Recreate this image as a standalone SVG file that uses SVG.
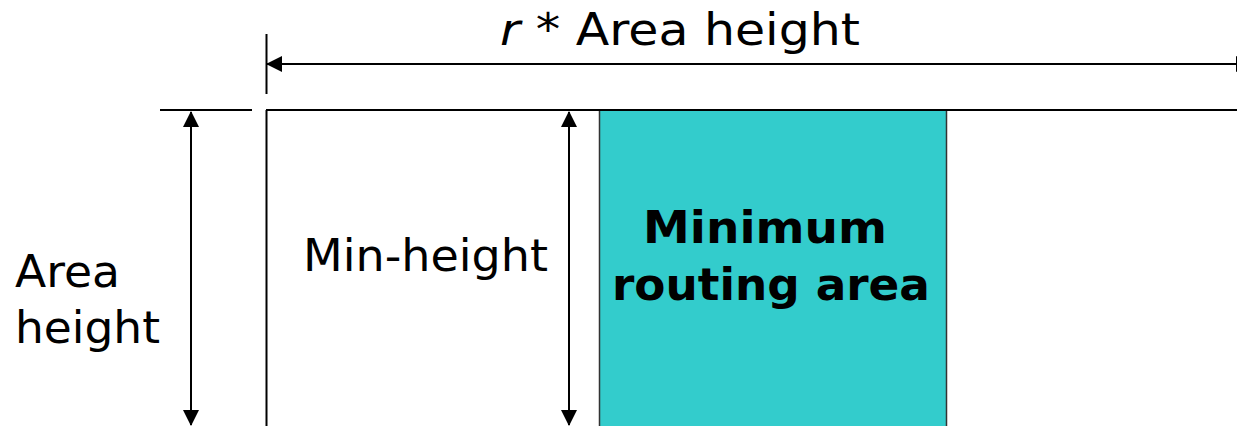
<svg xmlns="http://www.w3.org/2000/svg" width="1237" height="426" viewBox="0 0 1237 426">
  <style>
    .line { stroke: #000; stroke-width: 2; fill: none; }
    .arrow { stroke: #000; stroke-width: 2; fill: none; marker-start: url(#head); marker-end: url(#head); }
    .label { font-family: Verdana, "DejaVu Sans", sans-serif; font-size: 45px; fill: #000; }
    .bold { font-weight: bold; }
  </style>
  <defs>
    <marker id="head" viewBox="0 0 16 16" refX="15" refY="8" markerWidth="16" markerHeight="16" markerUnits="userSpaceOnUse" orient="auto-start-reverse">
      <path d="M0,0 L16,8 L0,16 Z" fill="#000"/>
    </marker>
  </defs>

  <rect width="1237" height="426" fill="#fff"/>

  <!-- routing region -->
  <g id="routing-area">
    <rect x="599.5" y="110" width="347" height="320" fill="#33cccc" stroke="#333" stroke-width="1.5"/>
    <text class="label bold" x="765" y="243" text-anchor="middle" textLength="244" lengthAdjust="spacingAndGlyphs">Minimum</text>
    <text class="label bold" x="771" y="300" text-anchor="middle" textLength="318" lengthAdjust="spacingAndGlyphs">routing area</text>
  </g>

  <!-- boundaries of the area -->
  <g id="frame">
    <line class="line" x1="160" y1="110" x2="252" y2="110"/>
    <line class="line" x1="266" y1="110" x2="1237" y2="110"/>
    <line class="line" x1="266.5" y1="110" x2="266.5" y2="426"/>
    <line class="line" x1="266.5" y1="34" x2="266.5" y2="94"/>
  </g>

  <!-- dimension arrows; the right head runs past the page edge -->
  <g id="connectors">
    <line class="arrow" x1="267" y1="64" x2="1251" y2="64"/>
    <line class="arrow" x1="191" y1="112" x2="191" y2="425"/>
    <line class="arrow" x1="569" y1="112" x2="569" y2="425"/>
  </g>

  <g id="width-label">
    <text class="label" x="500" y="45" textLength="360" lengthAdjust="spacingAndGlyphs"><tspan font-style="italic">r</tspan> * Area height</text>
  </g>

  <g id="area-height-label">
    <text class="label" x="15" y="287" textLength="105" lengthAdjust="spacingAndGlyphs">Area</text>
    <text class="label" x="15" y="343" textLength="145" lengthAdjust="spacingAndGlyphs">height</text>
  </g>

  <g id="min-height-label">
    <text class="label" x="303" y="271" textLength="245" lengthAdjust="spacingAndGlyphs">Min-height</text>
  </g>
</svg>
